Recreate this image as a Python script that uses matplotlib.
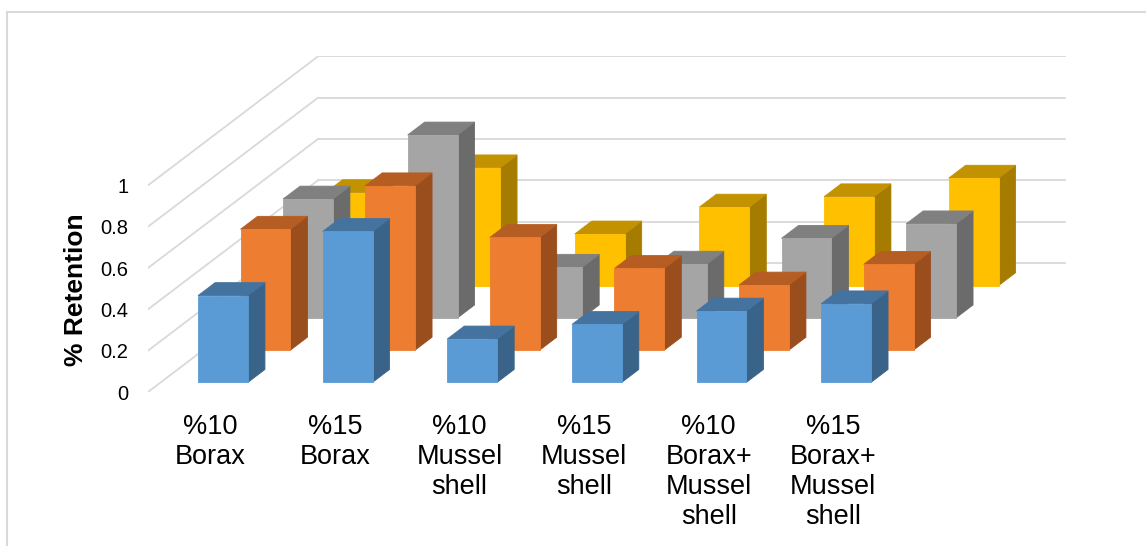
import matplotlib
matplotlib.use("Agg")
import matplotlib.pyplot as plt
from matplotlib.patches import Polygon
from matplotlib.lines import Line2D

plt.rcParams['font.family'] = ['Liberation Sans', 'DejaVu Sans']

# data
categories = ["%10\nBorax", "%15\nBorax", "%10\nMussel\nshell", "%15\nMussel\nshell",
              "%10\nBorax+\nMussel\nshell", "%15\nBorax+\nMussel\nshell"]
blue_vals = [0.42, 0.73, 0.21, 0.28, 0.345, 0.38]
orange_vals = [0.585, 0.795, 0.545, 0.395, 0.315, 0.415]
gray_vals = [0.575, 0.885, 0.245, 0.26, 0.385, 0.455]
yellow_vals = [0.45, 0.57, 0.25, 0.38, 0.43, 0.52]
yticks = [0, 0.2, 0.4, 0.6, 0.8, 1.0]
ytick_labels = ["0", "0.2", "0.4", "0.6", "0.8", "1"]

# (values, front, top, side) - front row first
series = [
    (blue_vals, "#5B9BD5", "#44739F", "#3A6389"),
    (orange_vals, "#ED7D31", "#B55D22", "#9A4D1D"),
    (gray_vals, "#A5A5A5", "#808080", "#6B6B6B"),
    (yellow_vals, "#FFC000", "#C29200", "#A67C00"),
]

# oblique projection of the depth axis: shift per row (x in category slots, y in value units)
DX = 0.341
DY = 0.156
n_rows = len(series)
n_cat = len(categories)
bar_w = 0.4
depth_front, depth_back = 0.3, 0.7
grid_col = "#D9D9D9"

fig = plt.figure(figsize=(11.46, 5.46), dpi=100)
ax = fig.add_axes([0.1291, 0.282, 0.8008, 0.6147])
ax.set_xlim(0, n_cat + n_rows * DX)
ax.set_ylim(0, 1 + n_rows * DY)
for s in ax.spines.values():
    s.set_visible(False)

# side wall + back wall gridlines
for v in yticks:
    bx, by = n_rows * DX, v + n_rows * DY
    ax.plot([0, bx], [v, by], color=grid_col, lw=1.3, zorder=0)
    ax.plot([bx, n_cat + bx], [by, by], color=grid_col, lw=1.3, zorder=0)


def draw_bar(k, r, v, cf, ct, cs, z):
    d0, d1 = r + depth_front, r + depth_back
    xl = k + (1 - bar_w) / 2
    xr = xl + bar_w
    front = [(xl + d0 * DX, d0 * DY), (xr + d0 * DX, d0 * DY),
             (xr + d0 * DX, v + d0 * DY), (xl + d0 * DX, v + d0 * DY)]
    top = [(xl + d0 * DX, v + d0 * DY), (xr + d0 * DX, v + d0 * DY),
           (xr + d1 * DX, v + d1 * DY), (xl + d1 * DX, v + d1 * DY)]
    side = [(xr + d0 * DX, d0 * DY), (xr + d1 * DX, d1 * DY),
            (xr + d1 * DX, v + d1 * DY), (xr + d0 * DX, v + d0 * DY)]
    for pts, c in ((side, cs), (top, ct), (front, cf)):
        ax.add_patch(Polygon(pts, closed=True, facecolor=c, edgecolor=c, lw=0.6, zorder=z))


# back rows first so front rows cover them
for r in range(n_rows - 1, -1, -1):
    vals, cf, ct, cs = series[r]
    for k, v in enumerate(vals):
        draw_bar(k, r, v, cf, ct, cs, z=10 + (n_rows - r))

ax.set_yticks(yticks)
ax.set_yticklabels(ytick_labels, fontsize=14.5)
ax.set_xticks([k + 0.5 for k in range(n_cat)])
ax.set_xticklabels(categories, fontsize=19.5, linespacing=1.2)
ax.tick_params(axis='y', length=0, pad=14)
ax.tick_params(axis='x', length=0, pad=16)
ax.set_ylabel("% Retention", fontsize=19, fontweight='bold')
ax.yaxis.set_label_coords(-0.065, 0.304)

# chart frame (only left and top edges are inside the picture)
fig.add_artist(Line2D([0.0065, 0.0065], [0, 0.978], color=grid_col, lw=1.5))
fig.add_artist(Line2D([0.0065, 1], [0.978, 0.978], color=grid_col, lw=1.5))

fig.savefig("out.png", dpi=100)
